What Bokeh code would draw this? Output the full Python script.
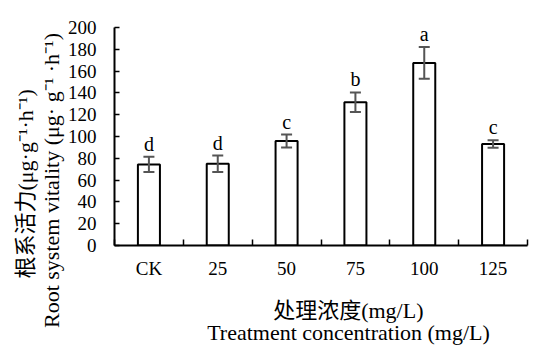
import numpy as np
from bokeh.plotting import figure
from bokeh.models import LinearAxis, FixedTicker, ColumnDataSource, Whisker, Range1d, TeeHead, Title
from bokeh.core.properties import value
from bokeh.embed import file_html
from bokeh.resources import INLINE

categories = ["CK", "25", "50", "75", "100", "125"]
means = [74.4, 75.0, 95.8, 131.4, 167.5, 93.1]
errors = [7.0, 7.5, 6.0, 9.0, 14.5, 3.5]
letters = ["d", "d", "c", "b", "a", "c"]
y_ticks = [0, 20, 40, 60, 80, 100, 120, 140, 160, 180, 200]
y_title_lines = ["根系活力(μg·g⁻¹·h⁻¹)", "Root system vitality (μg· g⁻¹ ·h⁻¹)"]
x_title_lines = ["处理浓度(mg/L)", "Treatment concentration (mg/L)"]

SERIF = "Liberation Serif"
MIXED = "'Liberation Serif', 'Noto Sans CJK SC'"
NB = "\u00a0"

xs = np.arange(len(categories)) + 0.5
src = ColumnDataSource(dict(
    x=xs, top=means,
    upper=np.array(means) + np.array(errors),
    lower=np.array(means) - np.array(errors),
    letter=letters,
))

p = figure(width=535, height=358, output_backend="svg", toolbar_location=None,
           x_range=Range1d(0, len(categories)), y_range=Range1d(0, 200),
           min_border_left=114, min_border_right=8, min_border_top=27, min_border_bottom=113,
           x_axis_type=None, y_axis_type=None)
p.outline_line_color = None
p.grid.visible = False
p.background_fill_color = "white"

p.vbar(x="x", top="top", width=0.32, source=src, fill_color="white",
       line_color="black", line_width=2)
p.add_layout(Whisker(base="x", upper="upper", lower="lower", source=src, level="overlay",
                     line_color="#555555", line_width=2,
                     upper_head=TeeHead(size=11, line_color="#555555", line_width=2),
                     lower_head=TeeHead(size=11, line_color="#555555", line_width=2)))
p.text(x="x", y="upper", text="letter", source=src, text_align="center",
       text_baseline="bottom", y_offset=-2, text_font=value(SERIF),
       text_font_size="20px", text_color="black")

# x axis
xa = LinearAxis(ticker=FixedTicker(ticks=list(xs), minor_ticks=list(range(len(categories) + 1))),
                major_label_overrides={float(x): c for x, c in zip(xs, categories)})
xa.axis_line_color = "black"
xa.axis_line_width = 2
xa.major_tick_line_color = None
xa.minor_tick_line_color = "black"
xa.minor_tick_line_width = 1.5
xa.minor_tick_out = 0
xa.minor_tick_in = 6
xa.major_label_text_font = SERIF
xa.major_label_text_font_size = "19px"
xa.major_label_text_color = "black"
xa.major_label_standoff = 6
p.add_layout(xa, "below")

# y axis
ya = LinearAxis(ticker=FixedTicker(ticks=y_ticks))
ya.axis_line_color = "black"
ya.axis_line_width = 2
ya.major_tick_line_color = "black"
ya.major_tick_line_width = 1.5
ya.major_tick_out = 0
ya.major_tick_in = 5
ya.minor_tick_line_color = None
ya.major_label_text_font = SERIF
ya.major_label_text_font_size = "19px"
ya.major_label_text_color = "black"
ya.major_label_standoff = 18
p.add_layout(ya, "left")

# two-line axis titles; non-breaking spaces shift the lines into place
y_text = NB * 9 + y_title_lines[0] + "\n" + y_title_lines[1] + NB * 16
x_text = NB * 22 + x_title_lines[0] + "\n" + NB * 10 + x_title_lines[1]

p.add_layout(Title(text=y_text, align="center", standoff=1,
                   text_font=MIXED, text_font_size="22px", text_font_style="normal",
                   text_line_height=1.05, text_color="black"), "left")
p.add_layout(Title(text=x_text, align="center", standoff=27,
                   text_font=MIXED, text_font_size="22px", text_font_style="normal",
                   text_line_height=0.9, text_color="black"), "below")

open("out.html", "w").write(file_html(p, INLINE))
